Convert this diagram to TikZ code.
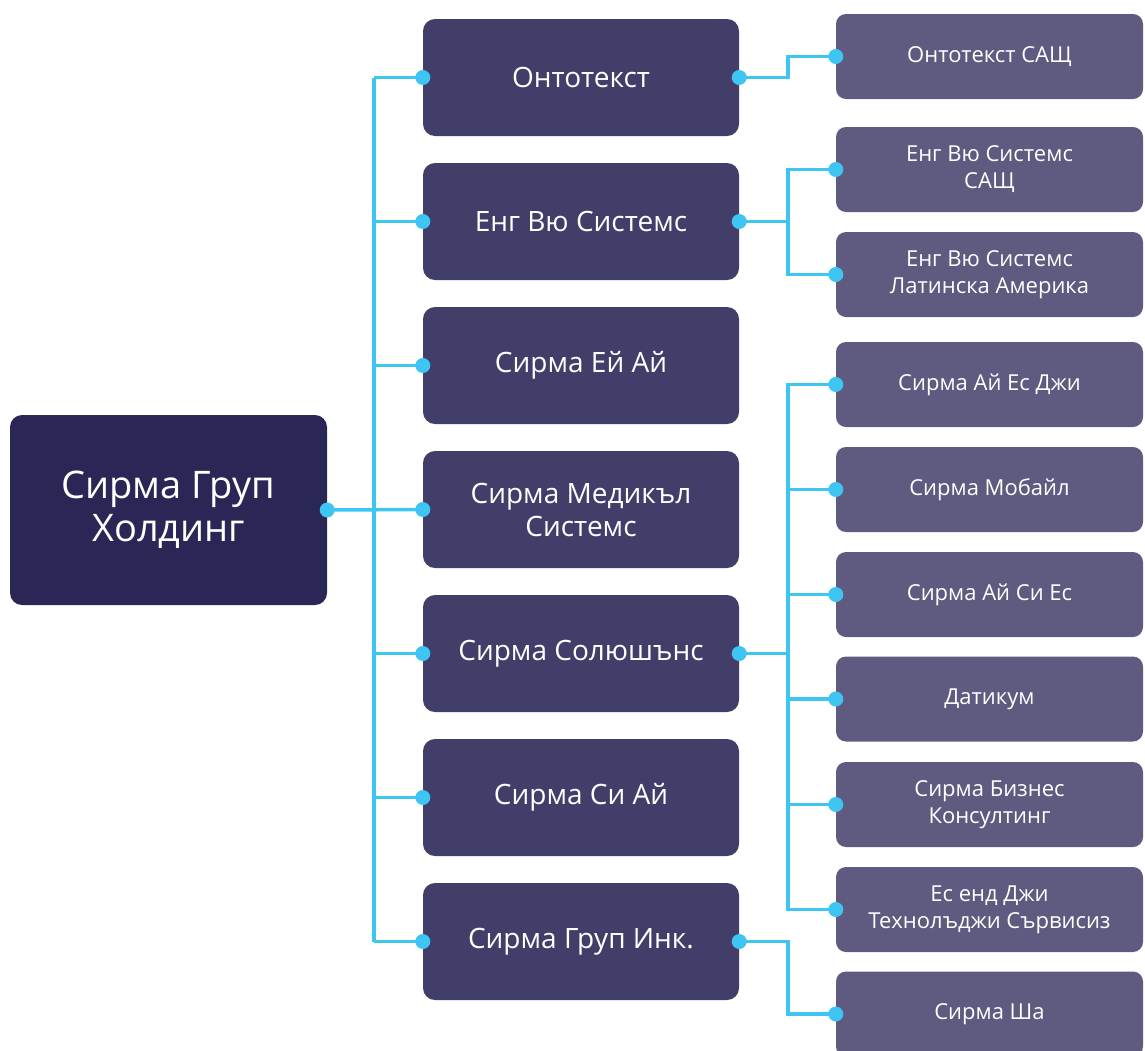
\documentclass[tikz,border=0pt]{standalone}
\usepackage{fontspec}
\setmainfont{Open Sans}
\usetikzlibrary{positioning}

\definecolor{rootnavy}{HTML}{2A2756}
\definecolor{midnavy}{HTML}{423E6A}
\definecolor{leafnavy}{HTML}{5E5A80}
\definecolor{linkblue}{HTML}{3EC5F2}

\tikzset{
    rootbox/.style={fill=rootnavy, rounded corners=12pt, minimum width=317pt, minimum height=190pt,
        text=white, align=center, inner sep=0pt, font=\fontsize{38}{43}\selectfont},
    midbox/.style={fill=midnavy, rounded corners=12pt, minimum width=316pt, minimum height=117pt,
        text=white, align=center, inner sep=0pt, font=\fontsize{28}{33}\selectfont},
    leafbox/.style={fill=leafnavy, rounded corners=10pt, minimum width=307pt, minimum height=85pt,
        text=white, align=center, inner sep=0pt, font=\fontsize{22}{27}\selectfont},
    link/.style={draw=linkblue, line width=3.5pt},
}

\begin{document}
\begin{tikzpicture}[x=1pt, y=-1pt]

    \useasboundingbox (0,0) rectangle (1145,1050);

    % Holding on the left
    \node[rootbox] (root) at (168.5, 510) {Сирма Груп\\Холдинг};

    % Companies in the middle column
    \foreach \i/\y/\name in {1/77.5/Онтотекст, 2/221.5/Енг Вю Системс, 3/365.5/Сирма Ей Ай,
        4/509.5/{Сирма Медикъл\\Системс}, 5/653.5/Сирма Солюшънс, 6/797.5/Сирма Си Ай,
        7/941.5/Сирма Груп Инк.} {
        \node[midbox] (mid\i) at (581, \y) {\name};
    }

    % Subsidiaries on the right
    \foreach \i/\y/\name in {1/56.5/Онтотекст САЩ, 2/169.5/{Енг Вю Системс\\САЩ},
        3/274.5/{Енг Вю Системс\\Латинска Америка}, 4/384.5/Сирма Ай Ес Джи,
        5/489.5/Сирма Мобайл, 6/594.5/Сирма Ай Си Ес, 7/699/Датикум,
        8/804.5/{Сирма Бизнес\\Консултинг}, 9/909.5/{Ес енд Джи\\Технолъджи Сървисиз},
        10/1014/Сирма Ша} {
        \node[leafbox] (leaf\i) at (989.5, \y) {\name};
    }

    % Bus lines
    \coordinate (bus) at (374, 0);
    \coordinate (fork) at (788, 0);

    \draw[link] (root.east) -- (mid4.west);
    \draw[link] (mid1.west -| bus) -- (mid7.west -| bus);
    \foreach \i in {1,...,7} {
        \draw[link] (mid\i.west) -- (mid\i.west -| bus);
    }

    \draw[link] (mid1.east) -- (mid1.east -| fork) |- (leaf1.west);
    \foreach \j in {2,3} {
        \draw[link] (mid2.east) -- (mid2.east -| fork) |- (leaf\j.west);
    }
    \foreach \j in {4,...,9} {
        \draw[link] (mid5.east) -- (mid5.east -| fork) |- (leaf\j.west);
    }
    \draw[link] (mid7.east) -- (mid7.east -| fork) |- (leaf10.west);

    % Dots at the ends
    \fill[linkblue] (root.east) circle (7.5);
    \foreach \i in {1,...,7} {
        \fill[linkblue] (mid\i.west) circle (7.5);
    }
    \foreach \i in {1,2,5,7} {
        \fill[linkblue] (mid\i.east) circle (7.5);
    }
    \foreach \j in {1,...,10} {
        \fill[linkblue] (leaf\j.west) circle (7.5);
    }

\end{tikzpicture}
\end{document}
